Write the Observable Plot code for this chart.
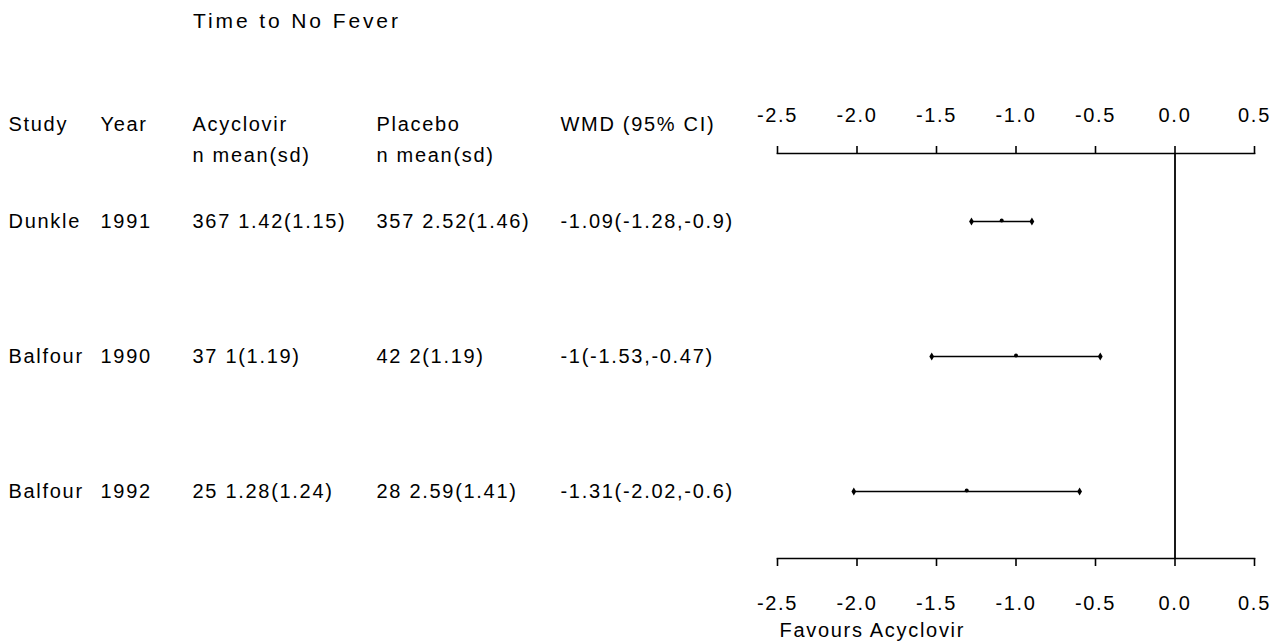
<!DOCTYPE html>
<html><head><meta charset="utf-8">
<script src="https://cdn.jsdelivr.net/npm/d3@7"></script>
<script src="https://cdn.jsdelivr.net/npm/@observablehq/plot@0.6"></script>
<style>
body{margin:0;background:#fff;}
#wrap{width:1284px;height:642px;position:relative;overflow:hidden;font-family:'Liberation Sans',Arial,sans-serif;color:#000;background:#fff;}
#title{position:absolute;left:193px;top:10px;font-size:21px;line-height:21px;letter-spacing:2.9px;white-space:nowrap;}
#row{position:absolute;left:0;top:40px;display:flex;}
</style></head><body>
<div id="wrap"><div id="title"></div><div id="row"></div></div>
<script>
// ---- data ----
const title = "Time to No Fever";
const studies = ["Dunkle", "Balfour", "Balfour"];
const years = [1991, 1990, 1992];
const acyN = [367, 37, 25];
const acyMean = [1.42, 1, 1.28];
const acySd = [1.15, 1.19, 1.24];
const plaN = [357, 42, 28];
const plaMean = [2.52, 2, 2.59];
const plaSd = [1.46, 1.19, 1.41];
const wmd = [-1.09, -1, -1.31];
const ciLow = [-1.28, -1.53, -2.02];
const ciHigh = [-0.9, -0.47, -0.6];
const tickValues = [-2.5, -2.0, -1.5, -1.0, -0.5, 0.0, 0.5];
const columns = ["Study", "Year", "Acyclovir", "acyPad", "Placebo", "plaPad", "WMD"];
const headerCols = ["Study", "Year", "Acyclovir", "Placebo", "WMD"];
const headerLabels = ["Study", "Year", "Acyclovir", "Placebo", "WMD (95% CI)"];
const subCols = ["Acyclovir", "Placebo"];
const subLabels = ["n mean(sd)", "n mean(sd)"];
const caption = "Favours Acyclovir";

// ---- derived tables ----
const rows = studies.map((s, i) => ({
  id: `${s} ${years[i]}`, study: s, year: years[i],
  wmd: wmd[i], lo: ciLow[i], hi: ciHigh[i]
}));
const ids = rows.map(d => d.id);
const cells = [];
rows.forEach((r, i) => {
  cells.push({col: "Study", id: r.id, text: studies[i]});
  cells.push({col: "Year", id: r.id, text: String(years[i])});
  cells.push({col: "Acyclovir", id: r.id, text: `${acyN[i]} ${acyMean[i]}(${acySd[i]})`});
  cells.push({col: "Placebo", id: r.id, text: `${plaN[i]} ${plaMean[i]}(${plaSd[i]})`});
  cells.push({col: "WMD", id: r.id, text: `${wmd[i]}(${ciLow[i]},${ciHigh[i]})`});
});
const headers = headerCols.map((c, i) => ({col: c, text: headerLabels[i]}));
const subs = subCols.map((c, i) => ({col: c, text: subLabels[i]}));

document.getElementById("title").textContent = title;

const H = 602, MT = 113, MB = 84;
const style = {fontFamily: "'Liberation Sans', Arial, sans-serif", fontSize: "20px", letterSpacing: "1.7px", color: "#000", background: "transparent", overflow: "visible"};

const table = Plot.plot({
  width: 740, height: H, marginTop: MT, marginBottom: MB,
  style,
  x: {type: "point", domain: columns, range: [8, 561], padding: 0, align: 0, axis: null},
  y: {type: "point", domain: ids, padding: 0.5, axis: null},
  marks: [
    Plot.text(headers, {x: "col", text: "text", frameAnchor: "top", textAnchor: "start", lineAnchor: "bottom", dy: -23}),
    Plot.text(subs, {x: "col", text: "text", frameAnchor: "top", textAnchor: "start", lineAnchor: "bottom", dy: 8}),
    Plot.text(cells, {x: "col", y: "id", text: "text", textAnchor: "start", lineAnchor: "middle"})
  ]
});

const fmt = d => d.toFixed(1);
const forest = Plot.plot({
  width: 544, height: H, marginTop: MT, marginBottom: MB, marginLeft: 37, marginRight: 30,
  style,
  x: {domain: [-2.5, 0.5], axis: null},
  y: {type: "point", domain: ids, padding: 0.5, axis: null},
  marks: [
    Plot.frame({anchor: "top", strokeWidth: 1.6}),
    Plot.frame({anchor: "bottom", strokeWidth: 1.6}),
    Plot.axisX({anchor: "top", ticks: tickValues, tickFormat: fmt, tickSize: 8, tickPadding: 23.5, strokeWidth: 1.6}),
    Plot.axisX({anchor: "bottom", ticks: tickValues, tickFormat: fmt, tickSize: 8, tickPadding: 29, strokeWidth: 1.6}),
    Plot.ruleX([0], {strokeWidth: 1.8}),
    Plot.ruleY(rows, {y: "id", x1: "lo", x2: "hi", strokeWidth: 1.6}),
    Plot.dot(rows, {x: "lo", y: "id", symbol: "diamond", r: 2.5, fill: "#000", stroke: null}),
    Plot.dot(rows, {x: "hi", y: "id", symbol: "diamond", r: 2.5, fill: "#000", stroke: null}),
    Plot.dot(rows, {x: "wmd", y: "id", r: 2, fill: "#000", stroke: null, dy: -1}),
    Plot.text([caption], {text: d => d, frameAnchor: "bottom-left", textAnchor: "start", lineAnchor: "bottom", dy: 78, dx: 2})
  ]
});

const row = document.getElementById("row");
row.appendChild(table);
row.appendChild(forest);
</script>
</body></html>
